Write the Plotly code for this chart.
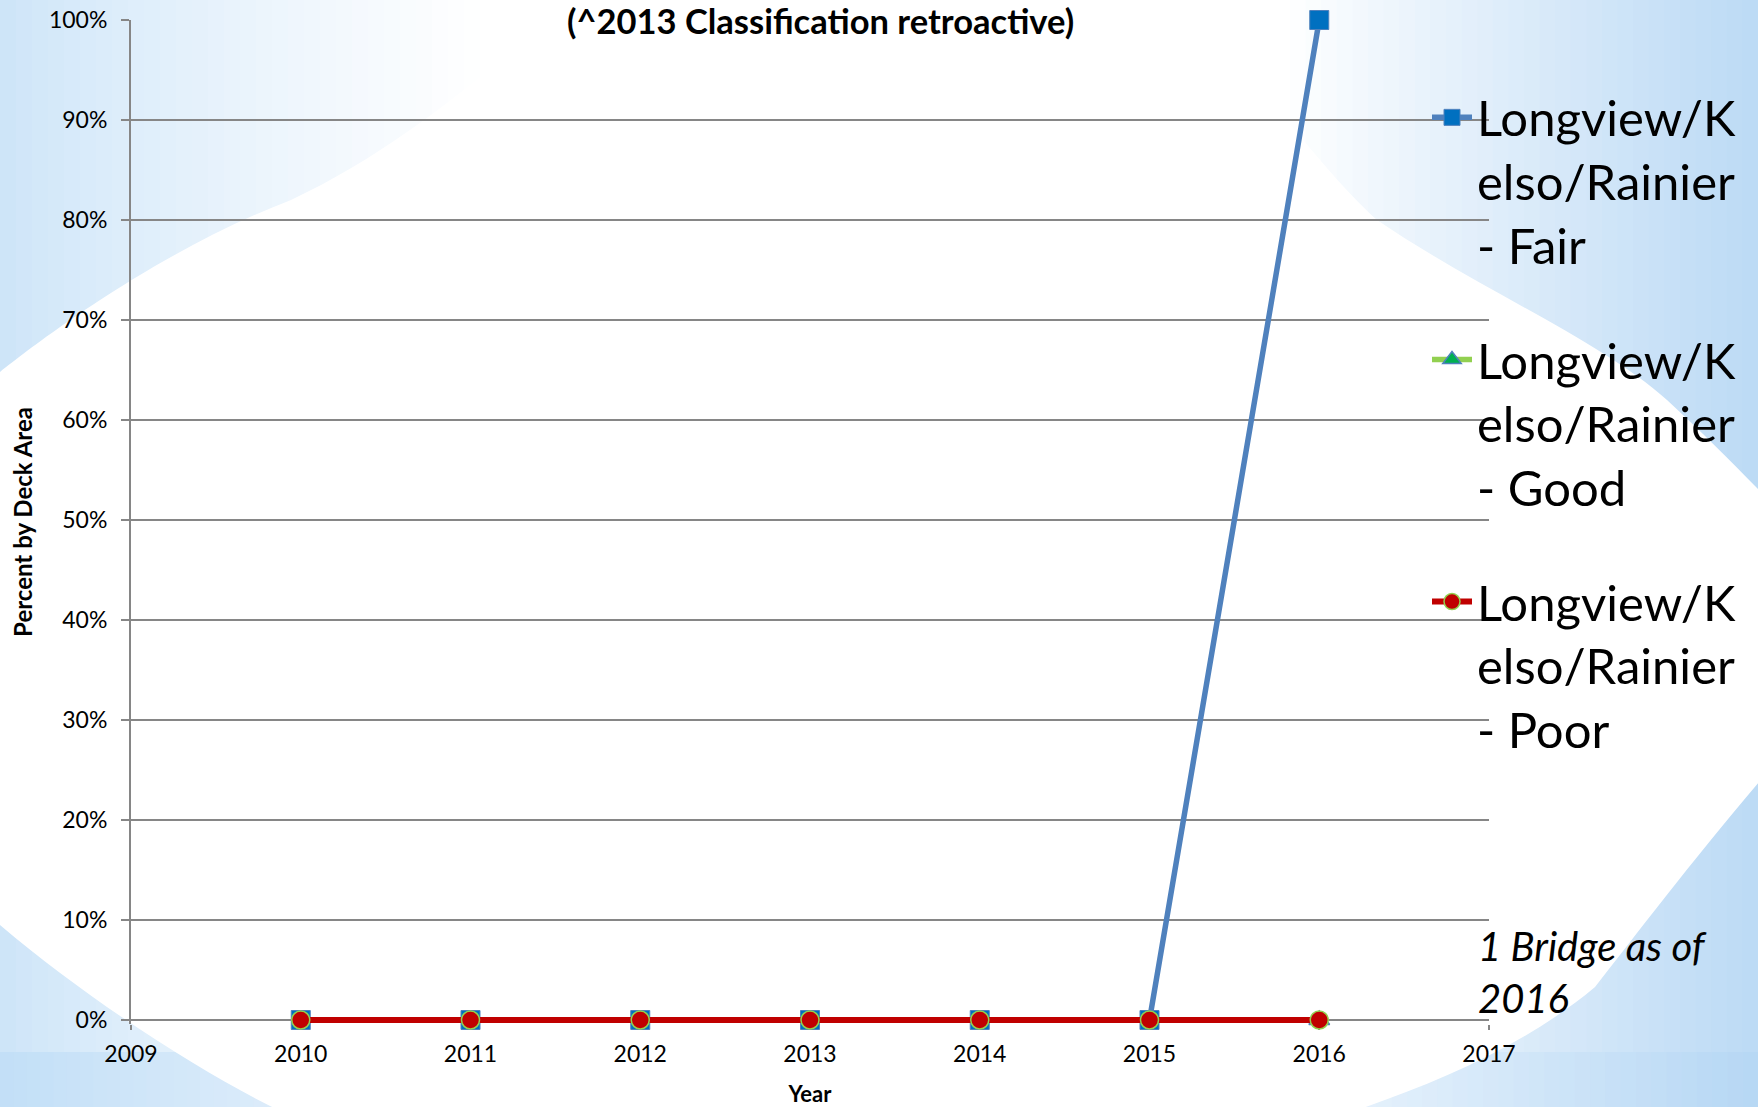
import plotly.graph_objects as go

# ---------------- data ----------------
years = [2010, 2011, 2012, 2013, 2014, 2015, 2016]
fair = [0, 0, 0, 0, 0, 0, 100]
good = [None, None, None, None, None, None, 0]
poor = [0, 0, 0, 0, 0, 0, 0]
series_names = [
    "Longview/K<br>elso/Rainier<br>- Fair",
    "Longview/K<br>elso/Rainier<br>- Good",
    "Longview/K<br>elso/Rainier<br>- Poor",
]
y_ticks = list(range(0, 101, 10))
y_tick_labels = [f"{v}%" for v in y_ticks]
x_ticks = list(range(2009, 2018))
title_text = "(^2013 Classification retroactive)"
note_text = "1 Bridge as of<br>2016"

W, H = 1758, 1107
Y_MIN = -0.4  # small pad below 0 so the thick line at 0% is not clipped
L, R, T, B = 131, 1489, 20, 1024  # plot area in px
FONT = "Lato"


def px(x):
    return (x - L) / (R - L)


def py(y):
    return (B - y) / (B - T)


def mix(c1, c2, t):
    return "rgb(%d,%d,%d)" % tuple(round(a + (b - a) * t) for a, b in zip(c1, c2))


WHITE = (255, 255, 255)
BLUE_L = (204, 228, 248)
BLUE_R = (188, 218, 245)
BAND_L = (194, 223, 247)
BAND_R = (182, 215, 244)

shapes = []


def rect(x0, x1, y0, y1, color):
    shapes.append(dict(type="rect", xref="paper", yref="paper", layer="below",
                       x0=px(x0), x1=px(x1), y0=py(y1), y1=py(y0),
                       fillcolor=color, line=dict(width=0)))


# page background gradient strips
N = 30
for i in range(N):
    x0 = 480 * i / N
    x1 = 480 * (i + 1) / N + 1
    t = ((i + 0.5) / N) ** 0.8
    rect(x0, x1, 0, H, mix(BLUE_L, WHITE, t))
rect(480, 1290, 0, H, "white")
for i in range(N):
    x0 = 1290 + 468 * i / N
    x1 = 1290 + 468 * (i + 1) / N + 1
    t = ((i + 0.5) / N) ** 0.9
    rect(x0, x1, 0, H, mix(WHITE, BLUE_R, t))

# bottom band
for i in range(N):
    x0 = 400 * i / N
    x1 = 400 * (i + 1) / N + 1
    t = (i + 0.5) / N
    rect(x0, x1, 1052, H, mix(BAND_L, (232, 242, 252), t))
for i in range(N):
    x0 = 1300 + 458 * i / N
    x1 = 1300 + 458 * (i + 1) / N + 1
    t = (i + 0.5) / N
    rect(x0, x1, 1052, H, mix((236, 245, 253), BAND_R, t))


def path(cmds):
    out = []
    for c in cmds:
        op, pts = c[0], c[1:]
        out.append(op + " ".join("%.5f,%.5f" % (px(a), py(b)) for a, b in pts))
    return " ".join(out) + " Z"


blob = path([
    ("M", (-20, 380)),
    ("L", (0, 372)),
    ("C", (40, 340), (160, 250), (291, 200)),
    ("C", (420, 140), (520, 40), (600, -20)),
    ("L", (1150, -20)),
    ("C", (1250, 60), (1310, 160), (1377, 220)),
    ("C", (1480, 290), (1600, 340), (1667, 400)),
    ("C", (1710, 440), (1740, 470), (1778, 510)),
    ("L", (1778, 760)),
    ("C", (1700, 850), (1640, 930), (1595, 987)),
    ("C", (1520, 1050), (1420, 1090), (1327, 1120)),
    ("L", (300, 1120)),
    ("C", (230, 1090), (100, 1010), (0, 925)),
    ("L", (-20, 920)),
])
shapes.append(dict(type="path", xref="paper", yref="paper", layer="below",
                   path=blob, fillcolor="white", line=dict(width=0)))

# ---------------- traces ----------------
fig = go.Figure()
fig.add_trace(go.Scatter(
    x=years, y=fair, name=series_names[0], mode="lines+markers", legendgroup="a",
    line=dict(color="#4f81bd", width=5.5),
    marker=dict(symbol="square", size=19, color="#0070c0", line=dict(color="#4f81bd", width=1)),
    cliponaxis=False,
))
fig.add_trace(go.Scatter(
    x=years, y=good, name=series_names[1], mode="lines+markers", legendgroup="b",
    line=dict(color="#92d050", width=5.5),
    marker=dict(symbol="triangle-up", size=18, color="#00b050", line=dict(color="#4f81bd", width=1.5)),
    cliponaxis=False,
))
fig.add_trace(go.Scatter(
    x=years, y=poor, name=series_names[2], mode="lines+markers", legendgroup="c",
    line=dict(color="#c00000", width=6),
    marker=dict(symbol="circle", size=18, color="#c00000", line=dict(color="#92d050", width=1.5)),
    cliponaxis=False,
))

annotations = [
    dict(text="<b>" + title_text + "</b>", xref="paper", yref="paper",
         x=px(820), y=py(20), xanchor="center", yanchor="middle", showarrow=False,
         font=dict(family=FONT, size=34.5, color="black")),
    dict(text="<i>" + note_text + "</i>", xref="paper", yref="paper",
         x=px(1476), y=py(972), xanchor="left", yanchor="middle", align="left", showarrow=False,
         font=dict(family=FONT, size=40, color="black")),
]

fig.update_layout(
    width=W, height=H,
    margin=dict(l=L, r=W - R, t=T, b=H - B, pad=0, autoexpand=False),
    paper_bgcolor="white",
    plot_bgcolor="rgba(0,0,0,0)",
    shapes=shapes,
    annotations=annotations,
    font=dict(family=FONT, color="black"),
    showlegend=True,
    legend=dict(
        x=px(1427), y=py(79), xanchor="left", yanchor="top",
        bgcolor="rgba(0,0,0,0)", borderwidth=0,
        font=dict(family=FONT, size=49, color="black"),
        valign="top", tracegroupgap=48, itemwidth=40,
    ),
    xaxis=dict(
        range=[2009, 2017], tickmode="array", tickvals=x_ticks,
        ticktext=[str(v) for v in x_ticks],
        showgrid=False, zeroline=False, automargin=False, layer="below traces",
        showline=False,
        ticks="outside", ticklen=5, tickcolor="#868686", tickwidth=2,
        tickfont=dict(family=FONT, size=23, color="black"),
        ticklabelstandoff=4,
        title=dict(text="<b>Year</b>", font=dict(family=FONT, size=22, color="black"), standoff=21),
    ),
    yaxis=dict(
        range=[Y_MIN, 100], tickmode="array", tickvals=y_ticks, ticktext=y_tick_labels,
        showgrid=True, gridcolor="#868686", gridwidth=1.5,
        zeroline=True, zerolinecolor="#868686", zerolinewidth=2,
        automargin=False, layer="below traces",
        showline=True, linecolor="#868686", linewidth=2,
        ticks="outside", ticklen=8, tickcolor="#868686", tickwidth=1.5,
        tickfont=dict(family=FONT, size=23, color="black"),
        ticklabelstandoff=9,
        title=dict(text="<b>Percent by Deck Area</b>", font=dict(family=FONT, size=24, color="black"), standoff=10),
    ),
)

fig.write_html("out.html", config={"displayModeBar": False},
               post_script="document.body.style.margin='0';document.body.style.overflow='hidden';")
